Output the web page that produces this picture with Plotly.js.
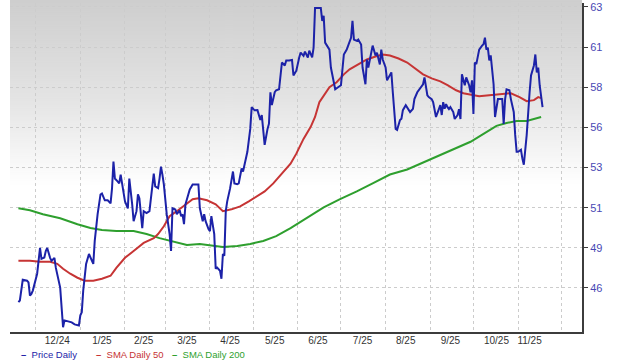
<!DOCTYPE html>
<html><head><meta charset="utf-8">
<script src="https://cdn.plot.ly/plotly-3.0.1.min.js"></script>
<style>html,body{margin:0;padding:0;background:#fff}#chart{width:620px;height:360px}</style>
</head><body><div id="chart"></div>
<script>
const priceDates = ['2024-11-19','2024-11-20','2024-11-22','2024-11-25','2024-11-26','2024-11-27','2024-11-28','2024-11-29','2024-12-02','2024-12-04','2024-12-05','2024-12-07','2024-12-08','2024-12-09','2024-12-11','2024-12-12','2024-12-14','2024-12-15','2024-12-18','2024-12-20','2024-12-21','2024-12-24','2024-12-26','2024-12-28','2024-12-31',
'2025-01-01','2025-01-02','2025-01-03','2025-01-05','2025-01-07','2025-01-08','2025-01-10','2025-01-11','2025-01-13','2025-01-15','2025-01-16','2025-01-18','2025-01-20','2025-01-22','2025-01-23','2025-01-24','2025-01-25','2025-01-27','2025-01-28','2025-01-29','2025-01-31',
'2025-02-01','2025-02-03','2025-02-04','2025-02-06','2025-02-07','2025-02-09','2025-02-10','2025-02-11','2025-02-13','2025-02-14','2025-02-16','2025-02-18','2025-02-20','2025-02-21','2025-02-22','2025-02-24','2025-02-25','2025-02-26','2025-02-27','2025-02-28',
'2025-03-02','2025-03-04','2025-03-05','2025-03-06','2025-03-08','2025-03-09','2025-03-11','2025-03-12','2025-03-13','2025-03-14','2025-03-15','2025-03-17','2025-03-18','2025-03-20','2025-03-22','2025-03-24','2025-03-25','2025-03-27','2025-03-28','2025-03-29','2025-03-31',
'2025-04-01','2025-04-02','2025-04-04','2025-04-05','2025-04-06','2025-04-08','2025-04-09','2025-04-10','2025-04-11','2025-04-12','2025-04-13','2025-04-15','2025-04-16','2025-04-17','2025-04-18','2025-04-20','2025-04-21','2025-04-23','2025-04-24','2025-04-25','2025-04-27','2025-04-29','2025-04-30',
'2025-05-02','2025-05-04','2025-05-06','2025-05-07','2025-05-08','2025-05-09','2025-05-11','2025-05-12','2025-05-13','2025-05-14','2025-05-16','2025-05-17','2025-05-19','2025-05-20','2025-05-21','2025-05-23','2025-05-24','2025-05-26','2025-05-28','2025-05-29','2025-05-31',
'2025-06-02','2025-06-03','2025-06-05','2025-06-06','2025-06-08','2025-06-09','2025-06-11','2025-06-12','2025-06-13','2025-06-15','2025-06-17','2025-06-18','2025-06-19','2025-06-20','2025-06-23','2025-06-24','2025-06-27','2025-06-29',
'2025-07-01','2025-07-03','2025-07-05','2025-07-06','2025-07-08','2025-07-09','2025-07-10','2025-07-12','2025-07-13','2025-07-15','2025-07-16','2025-07-18','2025-07-19','2025-07-20','2025-07-21','2025-07-23','2025-07-25','2025-07-26','2025-07-28','2025-07-29','2025-07-30',
'2025-08-01','2025-08-02','2025-08-04','2025-08-05','2025-08-06','2025-08-08','2025-08-09','2025-08-11','2025-08-12','2025-08-13','2025-08-15','2025-08-17','2025-08-18','2025-08-20','2025-08-21','2025-08-23','2025-08-25','2025-08-26','2025-08-27','2025-08-28','2025-08-29','2025-08-30','2025-08-31',
'2025-09-02','2025-09-03','2025-09-04','2025-09-05','2025-09-07','2025-09-08','2025-09-09','2025-09-10','2025-09-11','2025-09-12','2025-09-13','2025-09-14','2025-09-15','2025-09-17','2025-09-18','2025-09-20','2025-09-21','2025-09-22','2025-09-23','2025-09-25','2025-09-26','2025-09-28','2025-09-29','2025-09-30',
'2025-10-01','2025-10-02','2025-10-03','2025-10-04','2025-10-05','2025-10-07','2025-10-08','2025-10-09','2025-10-10','2025-10-11','2025-10-12','2025-10-13','2025-10-14','2025-10-15','2025-10-16','2025-10-18','2025-10-20','2025-10-21','2025-10-22','2025-10-23','2025-10-24','2025-10-26','2025-10-27','2025-10-29','2025-10-30','2025-10-31',
'2025-11-01','2025-11-03','2025-11-04','2025-11-05','2025-11-07','2025-11-08','2025-11-09','2025-11-10','2025-11-12','2025-11-13','2025-11-14','2025-11-15','2025-11-16','2025-11-18'];
const priceValues = [45.35,45.45,46.69,46.63,46.53,45.74,45.84,46.04,47.05,48.59,47.94,48.02,48.41,48.59,48.00,47.82,48.00,47.40,46.22,43.85,44.26,44.20,44.14,44.02,43.96,
44.56,44.75,46.04,47.64,48.23,48.02,47.64,49.01,50.61,51.79,51.85,51.44,51.44,51.26,52.15,53.75,52.74,52.56,52.45,52.98,51.97,
51.38,50.96,52.74,51.20,50.19,50.79,51.79,51.57,49.78,50.79,50.68,50.79,52.15,53.04,52.27,52.17,52.74,53.45,52.98,52.39,
50.61,49.42,48.41,50.96,50.89,50.61,50.84,50.49,50.59,50.01,51.20,51.85,52.09,52.39,52.40,52.39,50.96,50.19,50.61,50.19,49.72,
49.60,50.49,49.42,47.35,47.42,47.23,46.75,48.23,48.12,50.79,51.38,52.15,52.74,53.16,52.45,52.40,52.45,53.34,53.16,53.55,54.34,55.71,57.01,
56.82,56.83,56.24,56.54,55.65,54.76,55.71,56.02,57.90,57.13,57.90,58.02,58.08,58.91,59.68,59.50,59.80,59.80,59.83,58.91,59.19,
59.98,60.27,60.08,60.33,59.98,60.39,59.98,60.57,62.94,62.94,62.94,62.17,62.47,60.87,60.45,59.38,58.08,58.20,
58.32,60.16,60.45,60.69,61.16,62.17,61.05,60.97,61.05,60.75,59.38,58.38,59.86,59.38,59.78,60.69,60.10,60.27,59.56,60.45,59.86,
59.38,58.61,58.97,59.09,57.90,55.71,55.65,56.24,56.32,56.83,57.13,56.89,56.72,56.91,57.49,57.90,58.14,58.32,58.38,58.79,58.20,57.72,57.61,
57.49,57.31,56.83,56.42,56.89,57.13,56.54,57.31,56.91,57.19,57.01,56.89,57.01,56.72,56.30,56.54,56.89,56.30,58.97,58.32,58.79,58.32,57.90,58.61,
56.60,59.68,59.58,59.98,60.45,60.69,60.77,61.16,60.45,60.57,59.80,60.10,58.97,58.38,56.42,57.49,57.49,57.49,56.00,57.49,58.08,58.02,57.49,56.72,55.35,54.34,
54.34,54.46,53.93,53.57,55.35,56.89,57.90,58.91,59.50,60.16,59.09,59.38,58.32,57.01];

const sma50Dates = ['2024-11-19','2024-11-27','2024-12-04','2024-12-11','2024-12-16','2024-12-20','2024-12-25','2024-12-30','2025-01-04','2025-01-10','2025-01-16','2025-01-22','2025-01-26','2025-02-01','2025-02-07','2025-02-14','2025-02-21','2025-02-24','2025-02-28','2025-03-04','2025-03-09','2025-03-15','2025-03-20','2025-03-24','2025-03-30','2025-04-05','2025-04-10','2025-04-16','2025-04-22','2025-04-28','2025-05-03','2025-05-09','2025-05-15','2025-05-21','2025-05-27','2025-05-31','2025-06-05','2025-06-10','2025-06-13','2025-06-16','2025-06-20','2025-06-23','2025-06-28','2025-07-03','2025-07-07','2025-07-13','2025-07-19','2025-07-25','2025-07-30','2025-08-04','2025-08-10','2025-08-16','2025-08-21','2025-08-27','2025-09-02','2025-09-08','2025-09-13','2025-09-19','2025-09-24','2025-09-30','2025-10-05','2025-10-12','2025-10-19','2025-10-27','2025-11-02','2025-11-07','2025-11-12','2025-11-15','2025-11-17'];
const sma50Values = [47.82,47.82,47.76,47.76,47.64,47.35,47.05,46.81,46.63,46.63,46.75,46.93,47.40,48.00,48.41,48.89,49.18,49.42,49.89,50.49,50.79,51.20,51.50,51.56,51.44,51.20,50.79,50.90,51.08,51.38,51.67,51.97,52.45,53.04,53.63,54.23,55.11,55.83,56.42,57.31,57.78,58.20,58.50,58.97,59.27,59.56,59.86,60.04,60.16,60.10,59.92,59.68,59.38,58.97,58.73,58.55,58.32,58.02,57.84,57.72,57.66,57.72,57.78,57.84,57.61,57.37,57.43,57.61,57.55];

const sma200Dates = ['2024-11-19','2024-11-27','2024-12-06','2024-12-18','2024-12-30','2025-01-08','2025-01-16','2025-01-26','2025-02-07','2025-02-16','2025-02-25','2025-03-07','2025-03-16','2025-03-25','2025-04-03','2025-04-10','2025-04-20','2025-04-29','2025-05-08','2025-05-17','2025-05-27','2025-06-07','2025-06-19','2025-06-30','2025-07-12','2025-07-23','2025-08-04','2025-08-16','2025-08-27','2025-09-08','2025-09-19','2025-09-29','2025-10-08','2025-10-17','2025-10-24','2025-10-31','2025-11-07','2025-11-13','2025-11-17'];
const sma200Values = [50.96,50.84,50.61,50.37,50.01,49.78,49.66,49.60,49.60,49.42,49.18,48.95,48.77,48.83,48.71,48.65,48.71,48.83,49.01,49.30,49.78,50.37,51.02,51.50,51.97,52.45,52.98,53.28,53.69,54.11,54.52,54.94,55.41,55.89,56.06,56.18,56.18,56.30,56.42];

const monthStarts = ['2024-12-01','2025-01-01','2025-02-01','2025-03-01','2025-04-01','2025-05-01','2025-06-01','2025-07-01','2025-08-01','2025-09-01','2025-10-01','2025-11-01','2025-12-01'];
const monthLabelDates = ['2024-12-16','2025-01-16','2025-02-14','2025-03-16','2025-04-15','2025-05-16','2025-06-15','2025-07-16','2025-08-15','2025-09-15','2025-10-17','2025-11-09'];
const monthLabels = ['12/24','1/25','2/25','3/25','4/25','5/25','6/25','7/25','8/25','9/25','10/25','11/25'];
const yTickVals = [46.2,48.6,51.0,53.4,55.8,58.2,60.6,63.0];
const yTickText = ['46','49','51','53','56','58','61','63'];
const seriesNames = ['Price Daily','SMA Daily 50','SMA Daily 200'];
const seriesColors = ['#1c22a8','#c63434','#2e9f2e'];

// background gradient for plot area
const cv = document.createElement('canvas');
cv.width = 4; cv.height = 332;
const cx = cv.getContext('2d');
const g = cx.createLinearGradient(0,0,0,332);
g.addColorStop(0,'#cecece');
g.addColorStop(0.3,'#e4e4e4');
g.addColorStop(0.56,'#ffffff');
g.addColorStop(1,'#ffffff');
cx.fillStyle = g; cx.fillRect(0,0,4,332);
const bgURL = cv.toDataURL('image/png');

const traces = [
  {x: sma200Dates, y: sma200Values, name: seriesNames[2], mode:'lines', line:{color:seriesColors[2], width:2}},
  {x: sma50Dates, y: sma50Values, name: seriesNames[1], mode:'lines', line:{color:seriesColors[1], width:2}},
  {x: priceDates, y: priceValues, name: seriesNames[0], mode:'lines', line:{color:seriesColors[0], width:2}}
];

const topPad = 3;
const plotH = 360 - topPad - 28;
const legendX = [0.0157, 0.1469, 0.2797];
const annotations = seriesNames.map((n,i)=>({
  xref:'paper', yref:'paper', x: legendX[i], y: -22/plotH, xanchor:'left', yanchor:'middle',
  text: '<b>–</b>  ' + n, showarrow:false,
  font:{family:'Liberation Sans, Arial, sans-serif', size:9.5, color: seriesColors[i]}
}));

const layout = {
  width:620, height:360,
  margin:{l:10, r:38, t:topPad, b:28},
  paper_bgcolor:'#ffffff', plot_bgcolor:'rgba(0,0,0,0)',
  showlegend:false,
  font:{family:'Liberation Sans, Arial, sans-serif'},
  images:[{source:bgURL, xref:'paper', yref:'paper', x:0, y:1 + topPad/plotH, sizex:1, sizey:1 + topPad/plotH, sizing:'stretch', xanchor:'left', yanchor:'top', layer:'below'}],
  xaxis:{
    type:'date', range:['2024-11-13 03:36','2025-12-15 09:36'],
    tickmode:'array', tickvals: monthLabelDates, ticktext: monthLabels,
    showgrid:false, ticks:'', zeroline:false, ticklabelstandoff:-2,
    showline:true, linecolor:'#3c3c3c', linewidth:2,
    tickfont:{size:10, color:'#333333'},
    minor:{tickmode:'array', tickvals: monthStarts, showgrid:true, gridcolor:'#cccccc', griddash:'dot', gridwidth:1, ticks:''}
  },
  yaxis:{
    side:'right', range:[43.566, 63.237],
    tickmode:'array', tickvals:yTickVals, ticktext:yTickText,
    showgrid:true, gridcolor:'#cccccc', griddash:'dot', gridwidth:1,
    ticks:'outside', ticklen:4, tickcolor:'#3c3c3c', tickwidth:1,
    showline:true, linecolor:'#3c3c3c', linewidth:2, zeroline:false,
    ticklabeloverflow:'allow',
    tickfont:{size:11, color:'#4848b4'}
  },
  annotations: annotations
};

Plotly.newPlot('chart', traces, layout, {staticPlot:true, displayModeBar:false});
</script>
</body></html>
